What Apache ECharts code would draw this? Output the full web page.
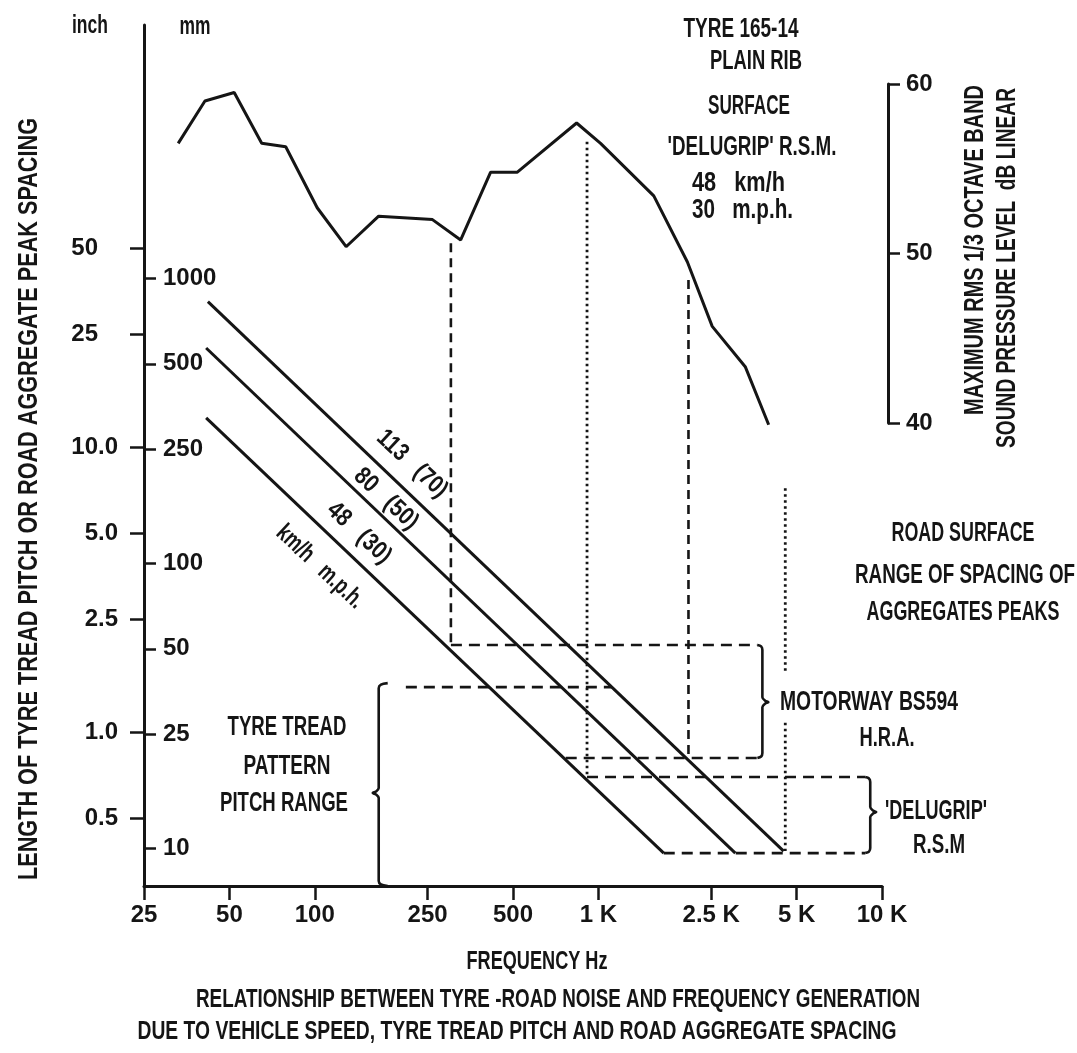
<!DOCTYPE html>
<html><head><meta charset="utf-8">
<script src="https://cdn.jsdelivr.net/npm/echarts@6/dist/echarts.min.js"></script>
<style>html,body{margin:0;padding:0;background:#fff}#chart{width:1077px;height:1053px}</style>
</head><body><div id="chart"></div>
<script>
// ---------------- values ----------------
const X_TICKS = [25, 50, 100, 250, 500, 1000, 2500, 5000, 10000];
const X_TICK_LABELS = ['25', '50', '100', '250', '500', '1 K', '2.5 K', '5 K', '10 K'];
const MM_TICKS = [10, 25, 50, 100, 250, 500, 1000];
const INCH_TICKS = [0.5, 1.0, 2.5, 5.0, 10.0, 25, 50];
const INCH_TICK_LABELS = ['0.5', '1.0', '2.5', '5.0', '10.0', '25', '50'];
const DB_TICKS = [40, 50, 60];

// maximum 1/3 octave band SPL curve
const BAND_FREQ_HZ = [33, 41, 52, 65, 79, 102, 129, 168, 260, 327, 417, 518, 838, 1018, 1568, 2060, 2520, 3300, 3985];
const SPL_DB = [56.5, 59.0, 59.5, 56.5, 56.3, 52.7, 50.4, 52.2, 52.0, 50.8, 54.8, 54.8, 57.7, 56.5, 53.4, 49.5, 45.7, 43.3, 39.9];

// vehicle speed lines (spacing vs frequency)
const SPEED_LABELS = ['113   (70)', '80   (50)', '48   (30)'];
const SPEED_UNITS = 'km/h   m.p.h.';
const SPEED_START_HZ = [42, 41.4, 41.4];
const SPEED_START_MM = [826, 568, 323];
const SPEED_END_HZ = [4500, 3040, 1700];
const SPEED_END_MM = [9.76, 9.6, 9.6];

// vertical guide lines
const GUIDE_HZ = [302, 912, 2078, 4560, 4560];
const GUIDE_MM_TOP = [1324, 3008, 984, 183, 27.5];
const GUIDE_MM_BOTTOM = [51.6, 17.76, 20.7, 41.1, 9.76];
const GUIDE_KIND = ['dashed', 'dotted', 'dashed', 'dotted', 'dotted'];

// horizontal range lines
const RANGE_MM = [51.6, 20.7, 17.76, 9.6, 36.7];
const RANGE_FROM_HZ = [302, 767, 912, 1700, 209.5];
const RANGE_TO_HZ = [3636, 3636, 8728, 8728, 1113];

// brackets
const BRACE_HZ = [3636, 8728, 180.8];
const BRACE_MM_TOP = [51.6, 17.76, 37.9];
const BRACE_MM_TIP = [32.5, 13.37, 15.6];
const BRACE_MM_BOTTOM = [20.7, 9.6, 7.36];
const BRACE_SIDE = [1, 1, -1];

// axis ranges
const X_MIN = 25, X_MAX = 10000;
const Y_MIN_MM = 7.36, Y_MAX_MM = 7720;
const DB_MIN = 40, DB_MAX = 60;

// ---------------- layout / style ----------------
const W = 1077, H = 1053;
const GRID = { left: 144, right: 195, top: 25, bottom: 167 };
const GRID_DB = { left: 144, right: 195, top: 84, bottom: 630 };
const FONT = "'Liberation Sans', Arial, sans-serif";
const INK = '#151515';
const LW = 3;
const lg = Math.log10;
const PXX = (W - GRID.left - GRID.right) / (lg(X_MAX) - lg(X_MIN));
const PXY = (H - GRID.top - GRID.bottom) / (lg(Y_MAX_MM) - lg(Y_MIN_MM));

function near(a, b) { return Math.abs(a - b) < 1e-6; }
function labelFrom(vals, labels) {
  return v => { for (let i = 0; i < vals.length; i++) if (near(lg(vals[i]), v)) return labels[i]; return ''; };
}

const series = [];
series.push({
  type: 'line', xAxisIndex: 1, yAxisIndex: 2, showSymbol: false, clip: false, silent: true,
  data: BAND_FREQ_HZ.map((f, i) => [lg(f), SPL_DB[i]]),
  lineStyle: { color: INK, width: LW }
});
SPEED_LABELS.forEach((n, i) => series.push({
  type: 'line', xAxisIndex: 0, yAxisIndex: 0, showSymbol: false, silent: true,
  data: [[lg(SPEED_START_HZ[i]), lg(SPEED_START_MM[i])], [lg(SPEED_END_HZ[i]), lg(SPEED_END_MM[i])]],
  lineStyle: { color: INK, width: LW }
}));
GUIDE_HZ.forEach((f, i) => series.push({
  type: 'line', xAxisIndex: 0, yAxisIndex: 0, showSymbol: false, silent: true,
  data: [[lg(f), lg(GUIDE_MM_TOP[i])], [lg(f), lg(GUIDE_MM_BOTTOM[i])]],
  lineStyle: GUIDE_KIND[i] === 'dashed'
    ? { color: INK, width: 2.6, type: [9, 6] }
    : { color: INK, width: 2.8, type: [2.5, 3.5] }
}));
RANGE_MM.forEach((m, i) => series.push({
  type: 'line', xAxisIndex: 0, yAxisIndex: 0, showSymbol: false, silent: true,
  data: [[lg(RANGE_FROM_HZ[i]), lg(m)], [lg(RANGE_TO_HZ[i]), lg(m)]],
  lineStyle: { color: INK, width: 2.6, type: [11, 7] }
}));
BRACE_HZ.forEach((f, i) => {
  const s = BRACE_SIDE[i];
  const a = s > 0 ? 5 : 9, b = s > 0 ? 11 : 15;
  const lt = lg(BRACE_MM_TOP[i]), lb = lg(BRACE_MM_BOTTOM[i]), lm = lg(BRACE_MM_TIP[i]);
  const px = dx => lg(f) + s * dx / PXX;
  const py = (l, dy) => l - dy / PXY;
  const pts = [
    [0, lt, 0], [a * 0.75, lt, 1.5], [a, lt, 5],
    [a, lm, -5], [a + (b - a) * 0.45, lm, -1.5], [b, lm, 0], [a + (b - a) * 0.45, lm, 1.5], [a, lm, 5],
    [a, lb, -5], [a * 0.75, lb, -1.5], [0, lb, 0]
  ];
  series.push({
    type: 'line', xAxisIndex: 0, yAxisIndex: 0, showSymbol: false, silent: true, clip: false, smooth: 0.3,
    data: pts.map(p => [px(p[0]), py(p[1], p[2])]),
    lineStyle: { color: INK, width: 2.6 }
  });
});

const labelStyle = { color: INK, fontFamily: FONT, fontWeight: 'bold', fontSize: 24 };
const axisLineStyle = { color: INK, width: 3 };

const mctx = document.createElement('canvas').getContext('2d');
function measure(text, size) { mctx.font = 'bold ' + size + 'px ' + FONT; return mctx.measureText(text).width; }
// text placed at a centre point, squeezed to the width seen in the reference lettering
function T(text, x, y, w, o) {
  o = o || {};
  const size = o.size || 27;
  return {
    type: 'text', x: x, y: y, rotation: o.rot || 0, scaleX: w ? w / measure(text, size) : 1, silent: true, z: 20,
    style: {
      text: text, fill: INK, fontFamily: FONT, fontWeight: 'bold', fontSize: size,
      align: o.align || 'center', verticalAlign: 'middle'
    }
  };
}
const R = Math.PI / 180;
const graphic = [
  T('inch', 90, 26, 36, { size: 25 }), T('mm', 195, 27, 31, { size: 25 }),
  T('TYRE 165-14', 741, 30, 115), T('PLAIN RIB', 756, 62, 92), T('SURFACE', 749, 107, 82),
  T("'DELUGRIP' R.S.M.", 752, 148, 169),
  T('48   km/h', 692, 184, 93, { align: 'left' }), T('30   m.p.h.', 692, 211, 101, { align: 'left' }),
  T('MAXIMUM RMS 1/3 OCTAVE BAND', 976, 250, 330, { rot: 90 * R }),
  T('SOUND PRESSURE LEVEL  dB LINEAR', 1008, 268, 360, { rot: 90 * R }),
  T('LENGTH OF TYRE TREAD PITCH OR ROAD AGGREGATE PEAK SPACING', 30, 499, 762, { rot: 90 * R }),
  T('ROAD SURFACE', 963, 534, 143), T('RANGE OF SPACING OF', 965, 576, 220), T('AGGREGATES PEAKS', 963, 613, 193),
  T('MOTORWAY BS594', 869, 703, 178), T('H.R.A.', 887, 739, 55),
  T("'DELUGRIP'", 936, 812, 102), T('R.S.M', 939, 846, 52),
  T('TYRE TREAD', 287, 728, 119), T('PATTERN', 287, 767, 87), T('PITCH RANGE', 284, 804, 128),
  T(SPEED_LABELS[0], 412, 464, 87, { rot: -43 * R, size: 25 }),
  T(SPEED_LABELS[1], 386, 499, 78, { rot: -43 * R, size: 25 }),
  T(SPEED_LABELS[2], 359, 533, 78, { rot: -43 * R, size: 25 }),
  T(SPEED_UNITS, 320, 567, 110, { rot: -43 * R, size: 25 }),
  T('FREQUENCY Hz', 537, 962, 141, { size: 26 }),
  T('RELATIONSHIP BETWEEN TYRE -ROAD NOISE AND FREQUENCY GENERATION', 558, 1000, 724, { size: 26 }),
  T('DUE TO VEHICLE SPEED, TYRE TREAD PITCH AND ROAD AGGREGATE SPACING', 517, 1032, 759, { size: 26 })
];

const xVals = X_TICKS.map(lg);
const mmVals = MM_TICKS.map(lg);
const inchVals = INCH_TICKS.map(v => lg(v * 25.4));
const inchLab = v => {
  for (let i = 0; i < INCH_TICKS.length; i++) if (near(inchVals[i], v)) {
    const t = INCH_TICK_LABELS[i];
    return t.indexOf('.') >= 0 ? '{n|' + t + '}' : '{n|' + t + '}{h|.0}';
  }
  return '';
};

const option = {
  animation: false,
  backgroundColor: '#fff',
  textStyle: { fontFamily: FONT, color: INK },
  grid: [
    Object.assign({ containLabel: false }, GRID),
    Object.assign({ containLabel: false }, GRID_DB)
  ],
  xAxis: [
    {
      type: 'value', gridIndex: 0, min: lg(X_MIN), max: lg(X_MAX), position: 'bottom',
      axisLine: { lineStyle: axisLineStyle },
      axisTick: { customValues: xVals, length: 14, lineStyle: { color: INK, width: 2.5 } },
      axisLabel: Object.assign({ customValues: xVals, margin: 17, formatter: labelFrom(X_TICKS, X_TICK_LABELS) }, labelStyle),
      splitLine: { show: false }
    },
    { type: 'value', gridIndex: 1, min: lg(X_MIN), max: lg(X_MAX), show: false }
  ],
  yAxis: [
    {
      type: 'value', gridIndex: 0, min: lg(Y_MIN_MM), max: lg(Y_MAX_MM), position: 'left',
      axisLine: { lineStyle: axisLineStyle },
      axisTick: { inside: true, customValues: mmVals, length: 12, lineStyle: { color: INK, width: 2.5 } },
      axisLabel: Object.assign({ inside: true, customValues: mmVals, margin: 19, formatter: labelFrom(MM_TICKS, MM_TICKS.map(String)) }, labelStyle),
      splitLine: { show: false }
    },
    {
      type: 'value', gridIndex: 0, min: lg(Y_MIN_MM), max: lg(Y_MAX_MM), position: 'left',
      axisLine: { show: false },
      axisTick: { customValues: inchVals, length: 14, lineStyle: { color: INK, width: 2.5 } },
      axisLabel: {
        customValues: inchVals, margin: 26, formatter: inchLab,
        rich: { n: labelStyle, h: Object.assign({}, labelStyle, { color: 'rgba(0,0,0,0)' }) }
      },
      splitLine: { show: false }
    },
    {
      type: 'value', gridIndex: 1, min: DB_MIN, max: DB_MAX, interval: 10, position: 'right', offset: 6,
      axisLine: { lineStyle: axisLineStyle },
      axisTick: { length: 12, lineStyle: { color: INK, width: 2.5 } },
      axisLabel: Object.assign({ margin: 18, formatter: v => DB_TICKS.indexOf(v) >= 0 ? String(v) : '' }, labelStyle),
      splitLine: { show: false }
    }
  ],
  series: series,
  graphic: graphic
};

const chart = echarts.init(document.getElementById('chart'), null, { renderer: 'canvas' });
chart.setOption(option);
</script></body></html>
